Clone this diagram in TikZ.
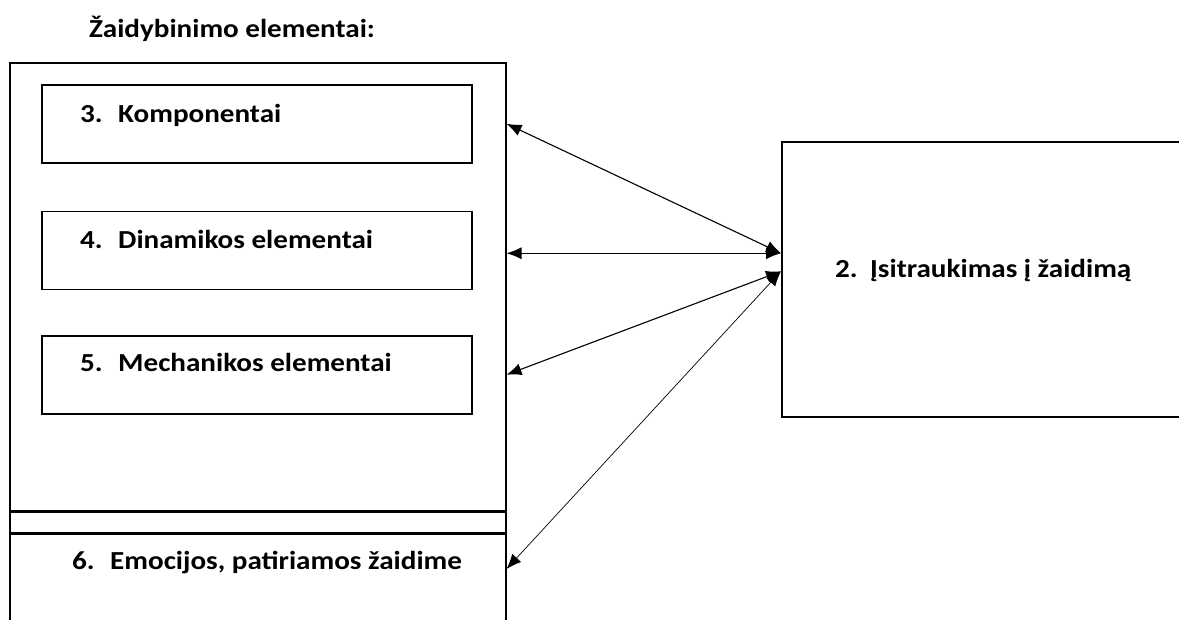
\documentclass[tikz,border=0pt]{standalone}
\usepackage{fontspec}
\setmainfont{Carlito}[FakeStretch=1.12]
\usetikzlibrary{arrows.meta,positioning}

\begin{document}
\begin{tikzpicture}[
  x=1pt, y=-1pt,
  groupbox/.style={draw,line width=1.5pt,minimum width=496pt,inner sep=0pt,anchor=north west},
  itembox/.style={draw,line width=1.5pt,minimum width=430pt,minimum height=78pt,inner sep=0pt,anchor=north west},
  lbl/.style={font=\fontsize{26}{30}\selectfont\bfseries,anchor=base west,inner sep=0pt},
  link/.style={{Latex[length=15pt,width=12pt]}-{Latex[length=15pt,width=12pt]},line width=1.1pt}
]
\clip (0,0) rectangle (1179,619);

\node[lbl,anchor=base] (title) at (232,37) {Žaidybinimo elementai:};

% left group
\node[groupbox,minimum height=448pt] (grp) at (9,62) {};
\node[groupbox,minimum height=20pt,below=0pt of grp] (gap) {};
\node[groupbox,minimum height=120pt,below=0pt of gap] (emo) {};

\node[itembox] (komp) at (41,84) {};
\node[itembox,below=47pt of komp] (dina) {};
\node[itembox,below=45pt of dina] (mech) {};

\node[lbl] (kompt) at ([xshift=39pt,yshift=-38pt]komp.north west) {\makebox[38pt][l]{3.}Komponentai};
\node[lbl] (dinat) at ([xshift=39pt,yshift=-38pt]dina.north west) {\makebox[38pt][l]{4.}Dinamikos elementai};
\node[lbl] (mecht) at ([xshift=39pt,yshift=-36pt]mech.north west) {\makebox[38pt][l]{5.}Mechanikos elementai};
\node[lbl] (emot) at (72,569) {\makebox[38pt][l]{6.}Emocijos, patiriamos žaidime};

% right box
\node[groupbox,minimum width=450pt,minimum height=275pt] (eng) at (781,141) {};
\node[lbl] (engt) at (835,277) {\makebox[35pt][l]{2.}Įsitraukimas į žaidimą};

\coordinate (tipA) at ([yshift=26pt]eng.west);
\coordinate (tipB) at ([yshift=8pt]eng.west);

\draw[link] (komp -| grp.east) -- (tipA);
\draw[link] (grp.east |- tipA) -- (tipA);
\draw[link] (mech -| grp.east) -- (tipB);
\draw[link,line width=0.7pt] (emot.base -| grp.east) -- (tipB);
\end{tikzpicture}
\end{document}
